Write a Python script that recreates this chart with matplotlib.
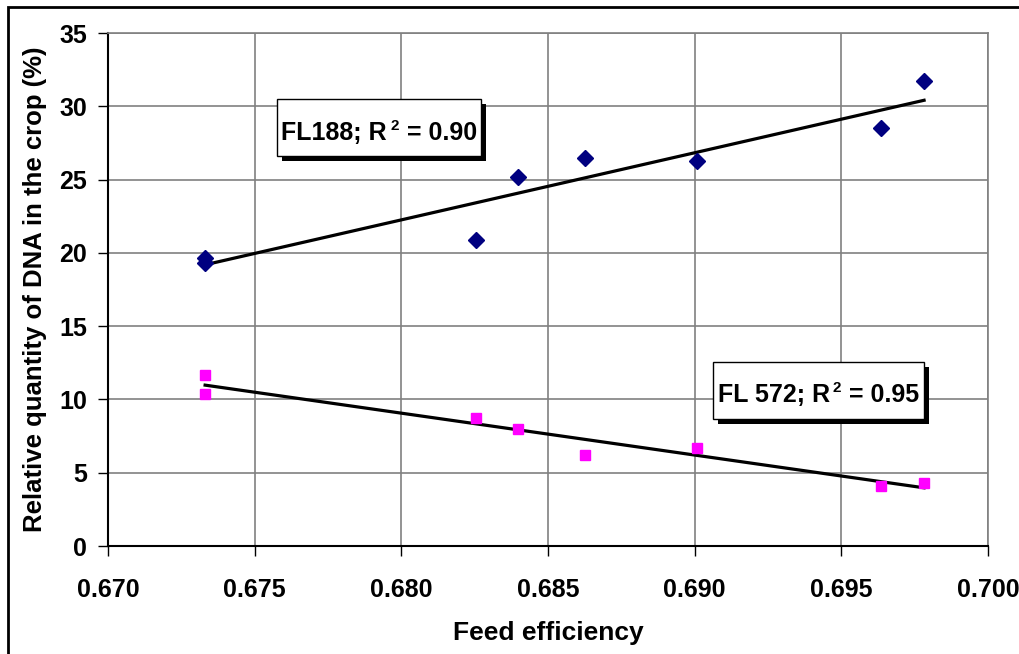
import numpy as np
import matplotlib
matplotlib.use("Agg")
import matplotlib.pyplot as plt
import matplotlib.patches as patches
import matplotlib.patheffects as pe
from matplotlib.transforms import IdentityTransform

plt.rcParams['font.family'] = ['Liberation Sans', 'DejaVu Sans']
plt.rcParams['font.weight'] = 'bold'

# Data
feed_eff_188 = [0.67331, 0.67331, 0.68255, 0.68398, 0.68626, 0.69008, 0.69635, 0.69782]
dna_188 = [19.65, 19.31, 20.88, 25.18, 26.47, 26.27, 28.52, 31.73]

feed_eff_572 = [0.67331, 0.67331, 0.68255, 0.68398, 0.68626, 0.69008, 0.69635, 0.69782]
dna_572 = [11.67, 10.37, 8.73, 7.98, 6.21, 6.69, 4.09, 4.30]

line_names = ["FL188", "FL 572"]
r2_values = ["0.90", "0.95"]
x_ticks = [0.670, 0.675, 0.680, 0.685, 0.690, 0.695, 0.700]
y_ticks = [0, 5, 10, 15, 20, 25, 30, 35]

fig = plt.figure(figsize=(10.19, 6.54), dpi=100)
ax = fig.add_axes([0.106, 0.1651, 0.8636, 0.7844])

ax.plot(feed_eff_188, dna_188, 'D', color='#000080', markersize=8, zorder=3)
ax.plot(feed_eff_572, dna_572, 's', color='#FF00FF', markersize=7.5, zorder=3)

# linear trend lines
for xs, ys in [(feed_eff_188, dna_188), (feed_eff_572, dna_572)]:
    xs = np.array(xs)
    k, b = np.polyfit(xs, ys, 1)
    xl = np.array([xs.min(), xs.max()])
    ax.plot(xl, k * xl + b, color='black', lw=2.3, zorder=2)

ax.set_xlim(0.670, 0.700)
ax.set_ylim(0, 35)
ax.set_xticks(x_ticks)
ax.set_yticks(y_ticks)
ax.set_xticklabels([f"{v:.3f}" for v in x_ticks])
ax.set_yticklabels([str(v) for v in y_ticks])
ax.tick_params(direction='out', length=7, width=1, labelsize=18)
ax.tick_params(axis='x', pad=16)
ax.tick_params(axis='y', pad=8)
ax.grid(True, color='#808080', lw=1.2)
ax.set_axisbelow(True)
for s in ['top', 'right']:
    ax.spines[s].set_color('#808080')
    ax.spines[s].set_linewidth(1.2)
for s in ['left', 'bottom']:
    ax.spines[s].set_linewidth(1.5)

ax.set_xlabel("Feed efficiency", fontsize=19, fontweight='bold', labelpad=14)
ax.set_ylabel("Relative quantity of DNA in the crop (%)", fontsize=18.5, fontweight='bold', labelpad=9)

# label boxes with drop shadow (axes fraction), text baseline
boxes = [(0.192, 0.760, 0.232, 0.111), (0.6875, 0.2476, 0.2395, 0.1111)]
baselines = [0.7914, 0.2807]
shadow = [pe.SimplePatchShadow(offset=(3.8, -3.8), shadow_rgbFace='black', alpha=1), pe.Normal()]

fig.canvas.draw()
renderer = fig.canvas.get_renderer()
for name, r2, (bx, by, bw, bh), base in zip(line_names, r2_values, boxes, baselines):
    rect = patches.Rectangle((bx, by), bw, bh, transform=ax.transAxes, facecolor='white',
                             edgecolor='black', lw=1, zorder=5, path_effects=shadow)
    ax.add_patch(rect)
    cx, cy = ax.transAxes.transform((bx + bw / 2, base))
    # main text, small raised "2", rest  (text, size, raise px, gap before px)
    parts = [(name + "; R", 18, 0, 0), ("2", 11, 10, 3), (" = " + r2, 18, 0, 1)]
    texts = [fig.text(0, 0, s, fontsize=fs, fontweight='bold', transform=IdentityTransform(),
                      ha='left', va='baseline', zorder=6) for s, fs, dy, gap in parts]
    widths = [t.get_window_extent(renderer).width + p[3] for t, p in zip(texts, parts)]
    x = cx - sum(widths) / 2
    for t, w, (s, fs, dy, gap) in zip(texts, widths, parts):
        t.set_position((x + gap, cy + dy))
        x += w

# outer frame of the chart area
fig.patches.append(patches.Rectangle((0.0079, -0.5), 2, 0.9893 + 0.5, transform=fig.transFigure,
                                     fill=False, lw=2, edgecolor='black'))

fig.savefig("out.png", dpi=100)
